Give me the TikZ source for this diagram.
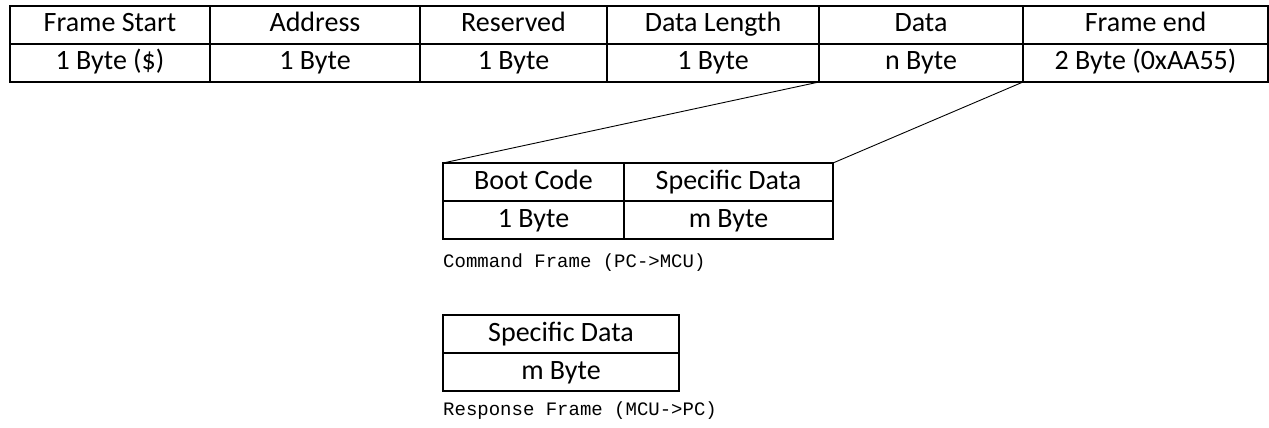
\documentclass[tikz,border=0pt]{standalone}
\usepackage{fontspec}
\setmainfont{Carlito}
\newfontfamily\capfont{Liberation Mono}
\begin{document}
\begin{tikzpicture}[x=1pt,y=-1pt,
    cell/.style={draw,line width=1.1pt,anchor=north west,inner sep=0pt,outer sep=0pt,
        minimum height=38pt,text height=19pt,text depth=5pt,font=\fontsize{28}{30}\selectfont},
    caption/.style={anchor=west,inner sep=0pt,font=\capfont\fontsize{19}{21}\selectfont}]
                \useasboundingbox (0,0) rectangle (1269,428);
                % main frame
                \node[cell,minimum width=200pt] (fs) at (10,6) {Frame Start};
                \node[cell,minimum width=210pt] (ad) at (210,6) {Address};
                \node[cell,minimum width=187pt] (rs) at (420,6) {Reserved};
                \node[cell,minimum width=212pt] (dl) at (607,6) {Data Length};
                \node[cell,minimum width=204pt] (da) at (819,6) {Data};
                \node[cell,minimum width=245pt] (fe) at (1023,6) {Frame end};
                \node[cell,minimum width=200pt] (fsb) at (10,44) {1 Byte (\$)};
                \node[cell,minimum width=210pt] (adb) at (210,44) {1 Byte};
                \node[cell,minimum width=187pt] (rsb) at (420,44) {1 Byte};
                \node[cell,minimum width=212pt] (dlb) at (607,44) {1 Byte};
                \node[cell,minimum width=204pt] (dab) at (819,44) {n Byte};
                \node[cell,minimum width=245pt] (feb) at (1023,44) {2 Byte (0xAA55)};
                % command frame
                \node[cell,minimum width=181pt] (bc) at (443,163) {Boot Code};
                \node[cell,minimum width=209pt] (sd) at (624,163) {Specific Data};
                \node[cell,minimum width=181pt] (bcb) at (443,201) {1 Byte};
                \node[cell,minimum width=209pt] (sdb) at (624,201) {m Byte};
                \node[caption] (cf) at (443,263) {Command Frame (PC->MCU)};
                % response frame
                \node[cell,minimum width=236pt] (rd) at (443,315) {Specific Data};
                \node[cell,minimum width=236pt] (rdb) at (443,353) {m Byte};
                \node[caption] (rf) at (443,411) {Response Frame (MCU->PC)};
                % zoom lines
                \draw[line width=0.9pt] (dab.south west) -- (bc.north west);
                \draw[line width=0.9pt] (dab.south east) -- (sd.north east);
            \end{tikzpicture}
\end{document}
